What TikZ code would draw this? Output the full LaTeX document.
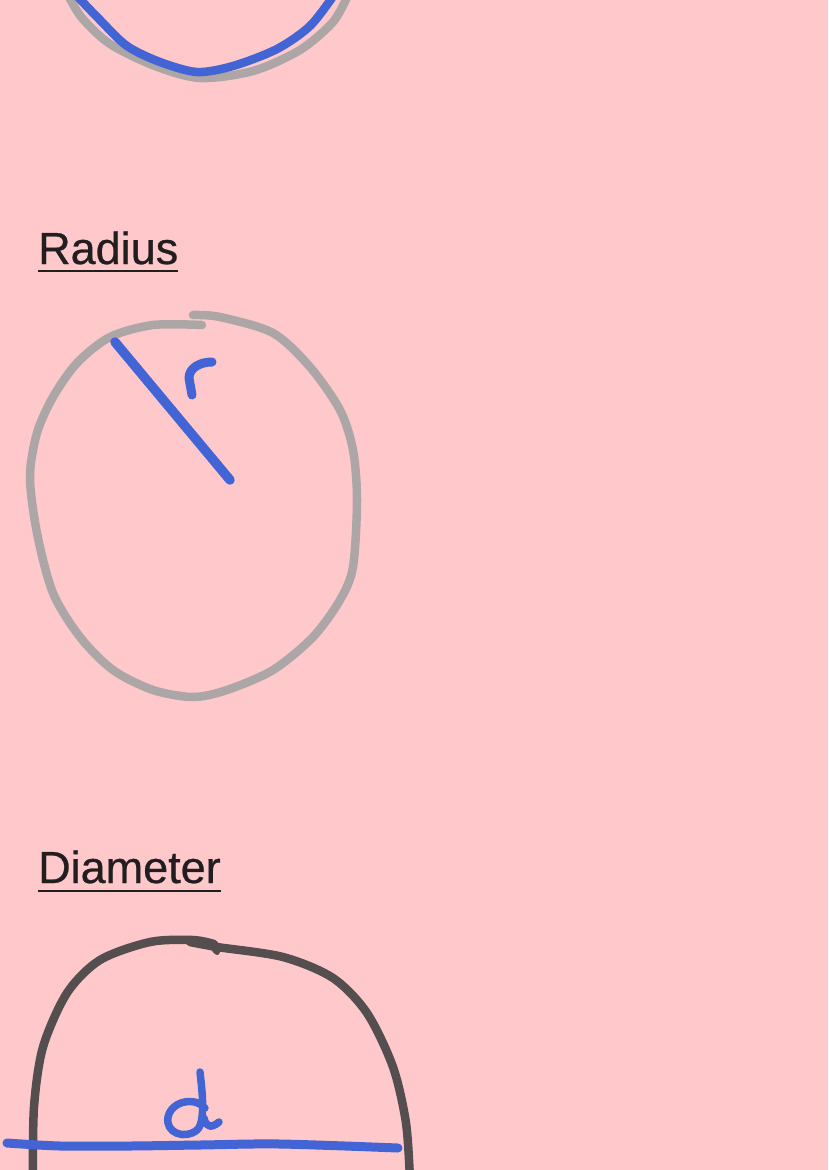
\documentclass[tikz,border=0pt]{standalone}
\usepackage{fontspec}
\setmainfont{Liberation Sans}[FakeBold=0.6]
\definecolor{pagepink}{RGB}{255,201,204}
\definecolor{penblue}{RGB}{66,100,212}
\definecolor{pengray}{RGB}{172,166,167}
\definecolor{pendark}{RGB}{84,78,79}
\definecolor{inkblack}{RGB}{34,30,31}
\begin{document}
\begin{tikzpicture}[x=1pt, y=-1pt,
    pen/.style={line width=8.5pt, line cap=round, line join=round},
    heading/.style={inner sep=0pt, anchor=base west, text=inkblack, font=\fontsize{45}{50}\selectfont},
    underline/.style={line width=2pt, inkblack}]
    \fill[pagepink] (0,0) rectangle (828,1170);
    \useasboundingbox (0,0) rectangle (828,1170);
    \clip (0,0) rectangle (828,1170);

    % circle cut off at the top
    \draw[pen, pengray] plot[smooth] coordinates {(68,-5) (82,18) (110,44) (155,66) (200,78) (253,71) (300,50) (333,22) (348,-5)};
    \draw[pen, penblue] plot[smooth] coordinates {(76,-5) (100,20) (127,46) (160,62) (197,72) (233,66) (277,49) (310,26) (334,-5)};

    % radius
    \node[heading] (radiustitle) at (38,264) {Radius};
    \draw[underline] ([yshift=-7pt]radiustitle.base west) -- ([yshift=-7pt]radiustitle.base east);

    \draw[pen, pengray] plot[smooth] coordinates {(202,325) (153,325) (110,337) (77,363) (53,397) (37,433) (30,477) (37,533) (53,593) (80,637) (113,670) (153,690) (193,697) (227,690) (273,670) (313,637) (340,600) (353,567) (357,500) (353,450) (340,410) (310,367) (273,333) (220,317) (193,315)};

    \coordinate (rimpoint) at (115,342);
    \coordinate (centre) at (230,480);
    \draw[pen, penblue, line width=9.5pt] (rimpoint) -- (centre);
    \draw[pen, penblue, line width=9pt] (192,395) -- (189,378) .. controls (189,368) and (200,362) .. (212,362);

    % diameter
    \node[heading] (diametertitle) at (38,883) {Diameter};
    \draw[underline] ([yshift=-8pt]diametertitle.base west) -- ([yshift=-8pt]diametertitle.base east);

    \draw[pen, pendark] plot[smooth] coordinates {(214,944) (193,940) (150,942) (100,960) (67,993) (43,1047) (34,1107) (33,1180)};
    \draw[pen, pendark] plot[smooth] coordinates {(190,942) (217,947) (283,957) (333,978) (367,1013) (393,1067) (406,1123) (410,1180)};
    \draw[pen, pendark, line width=6pt] (210,944) -- (217,952);

    \coordinate (leftend) at (7,1143);
    \coordinate (rightend) at (398,1148);
    \draw[pen, penblue, line width=9pt] plot[smooth] coordinates {(leftend) (60,1146) (130,1146) (200,1145) (280,1144) (rightend)};
    \draw[pen, penblue, line width=7.5pt] (205,1108) .. controls (196,1097) and (172,1100) .. (168,1117)
        .. controls (165,1133) and (185,1140) .. (197,1130)
        .. controls (206,1122) and (202,1090) .. (200,1072);
    \draw[pen, penblue, line width=7.5pt] (204,1118) .. controls (206,1128) and (212,1128) .. (219,1122);
\end{tikzpicture}
\end{document}
